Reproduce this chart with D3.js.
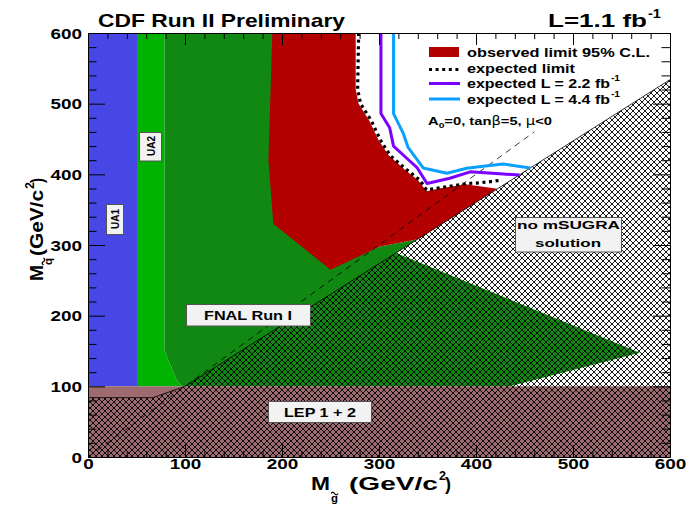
<!DOCTYPE html>
<html>
<head>
<meta charset="utf-8">
<script src="https://cdn.jsdelivr.net/npm/d3@7"></script>
<style>
  body { margin: 0; background: #fff; }
  svg { display: block; }
  text { font-family: "Liberation Sans", Arial, Helvetica, sans-serif; font-weight: bold; fill: #000; }
</style>
</head>
<body>
<svg id="chart" width="693" height="505"></svg>
<script>
// ---- axis ticks -----------------------------------------------------------
const xMajorTicks = [0, 100, 200, 300, 400, 500, 600];
const yMajorTicks = [0, 100, 200, 300, 400, 500, 600];
const minorStep = 20;

// ---- excluded regions (gluino mass, squark mass) in GeV/c^2 ---------------
const ua1Region = [[0, 100], [50.5, 100], [50.5, 600], [0, 600]];
const ua2Region = [[50.5, 100], [97, 100], [92, 107], [79, 150], [79, 600], [50.5, 600]];
const fnalRun1Region = [[79, 600], [196, 600], [196, 330], [250, 268], [301, 298], [340, 308.3],
  [317.5, 288.8], [404, 240.2], [569, 147.5], [435, 100], [97, 100], [92, 107], [79, 150]];
const observedRegion = [[190, 600], [276, 600], [276, 520], [279, 500], [290, 476], [300, 447],
  [310, 427], [327, 406], [340, 392], [349, 376], [362, 380], [389, 386], [422, 379.5],
  [340, 308.3], [301, 298], [250, 265], [191, 330], [186, 420]];
const lepRegion = [[0, 0], [600, 0], [600, 100], [0, 100]];
const noSolutionRegion = [[0, 0], [600, 0], [600, 534], [100, 100], [67, 84], [0, 84]];
const noSolutionEdge = [[0, 84], [67, 84], [100, 100], [600, 534]];

// ---- limit curves -----------------------------------------------------------
const expectedLimit = [[279, 600], [278, 520], [281, 500], [292, 476], [302, 447], [312, 426],
  [329, 406], [342, 392], [349, 378], [363, 381], [391, 387], [404, 388], [417, 390], [427, 392]];
const expected22 = [[302, 600], [302, 486], [311, 466], [315, 440], [330, 421], [339, 410],
  [349.5, 387], [373, 394.5], [394, 403.5], [417, 401.5], [445, 399]];
const expected44 = [[315, 600], [315, 486], [325, 458], [330, 438], [345.5, 409], [370, 401.5],
  [390.5, 408.5], [407.5, 411.5], [428, 414.5], [456, 409]];
const equalMassLine = [[0, 0], [460, 460]];

// ---- colours ----------------------------------------------------------------
const colUA1 = "#4747e6", colUA2 = "#00b300", colFNAL = "#118811", colObs = "#b30000",
      colLEP = "#9c6a6f", col22 = "#7a00ff", col44 = "#0aa0ff";

const svg = d3.select("#chart");
const x = d3.scaleLinear().domain([0, 600]).range([88, 670]);
const y = d3.scaleLinear().domain([0, 600]).range([457, 33]);

const defs = svg.append("defs");
defs.append("clipPath").attr("id", "plotClip")
  .append("rect").attr("x", x(0)).attr("y", y(600))
  .attr("width", x(600) - x(0)).attr("height", y(0) - y(600));
const hatch = defs.append("pattern").attr("id", "xhatch")
  .attr("patternUnits", "userSpaceOnUse").attr("width", 6).attr("height", 6);
hatch.append("path").attr("d", "M0,0L6,6M6,0L0,6M-1,1L1,-1M5,7L7,5M-1,5L1,7M5,-1L7,1")
  .attr("stroke", "#000").attr("stroke-width", 0.9).attr("fill", "none");

const area = d3.line().x(d => x(d[0])).y(d => y(d[1]));
const plot = svg.append("g").attr("clip-path", "url(#plotClip)");

function region(pts, fill) {
  plot.append("path").attr("d", area(pts) + "Z").attr("fill", fill);
}
region(ua1Region, colUA1);
region(ua2Region, colUA2);
region(fnalRun1Region, colFNAL);
region(observedRegion, colObs);
region(lepRegion, colLEP);
region(noSolutionRegion, "url(#xhatch)");
plot.append("path").attr("d", area(noSolutionEdge)).attr("fill", "none")
  .attr("stroke", "#000").attr("stroke-width", 0.8);

plot.append("path").attr("d", area(equalMassLine)).attr("fill", "none")
  .attr("stroke", "#000").attr("stroke-width", 0.8).attr("stroke-dasharray", "6,5");

function curve(pts, color, width, dash) {
  const p = plot.append("path").attr("d", area(pts)).attr("fill", "none")
    .attr("stroke", color).attr("stroke-width", width).attr("stroke-linejoin", "round");
  if (dash) p.attr("stroke-dasharray", dash);
}
curve(expected44, col44, 3);
curve(expected22, col22, 3);
curve(expectedLimit, "#000", 3.2, "3,3.6");

// ---- axes ---------------------------------------------------------------------
const xMinor = d3.range(0, 601, minorStep).filter(v => v % 100 !== 0);
const yMinor = d3.range(0, 601, minorStep).filter(v => v % 100 !== 0);

function styleAxis(g) {
  g.select(".domain").attr("stroke", "#000").attr("stroke-width", 1);
  g.selectAll(".tick line").attr("stroke", "#000").attr("stroke-width", 1);
}
function sizeLabels(g) {
  g.selectAll("text").attr("font-size", 14).attr("font-family", null)
    .attr("lengthAdjust", "spacingAndGlyphs")
    .attr("textLength", d => String(d).length * 10.5);
}

const gBottom = svg.append("g").attr("transform", `translate(0,${y(0)})`)
  .call(d3.axisBottom(x).tickValues(xMajorTicks).tickSizeInner(-12).tickSizeOuter(0).tickPadding(2));
styleAxis(gBottom); sizeLabels(gBottom);
svg.append("g").attr("transform", `translate(0,${y(0)})`)
  .call(d3.axisBottom(x).tickValues(xMinor).tickSize(-6).tickFormat(""))
  .call(g => { g.select(".domain").remove(); styleAxis(g); });

const gTop = svg.append("g").attr("transform", `translate(0,${y(600)})`)
  .call(d3.axisTop(x).tickValues(xMajorTicks).tickSizeInner(-12).tickSizeOuter(0).tickFormat(""));
styleAxis(gTop);
svg.append("g").attr("transform", `translate(0,${y(600)})`)
  .call(d3.axisTop(x).tickValues(xMinor).tickSize(-6).tickFormat(""))
  .call(g => { g.select(".domain").remove(); styleAxis(g); });

const gLeft = svg.append("g").attr("transform", `translate(${x(0)},0)`)
  .call(d3.axisLeft(y).tickValues(yMajorTicks).tickSizeInner(-17).tickSizeOuter(0).tickPadding(6));
styleAxis(gLeft); sizeLabels(gLeft);
gLeft.selectAll("text").attr("dy", "0.36em");
svg.append("g").attr("transform", `translate(${x(0)},0)`)
  .call(d3.axisLeft(y).tickValues(yMinor).tickSize(-8.5).tickFormat(""))
  .call(g => { g.select(".domain").remove(); styleAxis(g); });

const gRight = svg.append("g").attr("transform", `translate(${x(600)},0)`)
  .call(d3.axisRight(y).tickValues(yMajorTicks).tickSizeInner(-17).tickSizeOuter(0).tickFormat(""));
styleAxis(gRight);
svg.append("g").attr("transform", `translate(${x(600)},0)`)
  .call(d3.axisRight(y).tickValues(yMinor).tickSize(-8.5).tickFormat(""))
  .call(g => { g.select(".domain").remove(); styleAxis(g); });

// ---- text helpers -------------------------------------------------------------
function label(parent, str, px, py, size, len, anchor) {
  const t = parent.append("text").attr("x", px).attr("y", py).attr("font-size", size).text(str);
  if (len) t.attr("textLength", len).attr("lengthAdjust", "spacingAndGlyphs");
  if (anchor) t.attr("text-anchor", anchor);
  return t;
}
function tilde(parent, px, py, w) {
  parent.append("path")
    .attr("d", `M${px},${py} q${w / 4},-2.6 ${w / 2},0 t${w / 2},0`)
    .attr("fill", "none").attr("stroke", "#000").attr("stroke-width", 1.3);
}
function box(parent, bx, by, bw, bh) {
  parent.append("rect").attr("x", bx).attr("y", by).attr("width", bw).attr("height", bh)
    .attr("fill", "#f2f2f2").attr("stroke", "#555").attr("stroke-width", 1);
}

// titles
label(svg, "CDF Run II Preliminary", 98, 27, 19, 247);
label(svg, "L=1.1 fb", 548, 27, 19, 99);
label(svg, "-1", 648, 18, 12, 13);

// x-axis title: M with g-tilde subscript (GeV/c^2)
label(svg, "M", 311, 490, 19, 19);
label(svg, "g", 331, 501.5, 11, 7);
tilde(svg, 331, 493.5, 7);
label(svg, "(GeV/c", 349, 490, 19, 89);
label(svg, "2", 439, 480, 12, 7);
label(svg, ")", 445, 490, 19, 6);

// y-axis title, rotated: M with q-tilde subscript (GeV/c^2)
const yt = svg.append("g").attr("transform", "translate(43,281) rotate(-90)");
label(yt, "M", 0, 0, 19, 16);
label(yt, "q", 16, 8.5, 11, 7);
tilde(yt, 16, 0.5, 7);
label(yt, "(GeV/c", 25, 0, 19, 66);
label(yt, "2", 92, -9, 12, 7);
label(yt, ")", 98, 0, 19, 5);

// region labels
const lbl = svg.append("g");
box(lbl, 106.5, 204.5, 17, 30);
label(lbl.append("g").attr("transform", "translate(119,229) rotate(-90)"), "UA1", 0, 0, 11, 20);
box(lbl, 139.5, 132.5, 22, 28.5);
label(lbl.append("g").attr("transform", "translate(155,156) rotate(-90)"), "UA2", 0, 0, 11, 20);
box(lbl, 186.5, 304.5, 124, 21.5);
label(lbl, "FNAL Run I", 204, 320, 12, 88);
box(lbl, 515.5, 217.5, 106, 34.5);
label(lbl, "no mSUGRA", 517, 229, 11.5, 103);
label(lbl, "solution", 535, 247, 11.5, 66);
box(lbl, 268.5, 401.5, 103, 21);
label(lbl, "LEP 1 + 2", 284, 416.5, 12, 72);

// ---- legend ---------------------------------------------------------------------
const lg = svg.append("g");
lg.append("rect").attr("x", 429).attr("y", 47).attr("width", 30).attr("height", 10).attr("fill", colObs);
lg.append("line").attr("x1", 429).attr("x2", 460).attr("y1", 69.5).attr("y2", 69.5)
  .attr("stroke", "#000").attr("stroke-width", 3).attr("stroke-dasharray", "3,3.6");
lg.append("line").attr("x1", 429).attr("x2", 460).attr("y1", 83.5).attr("y2", 83.5)
  .attr("stroke", col22).attr("stroke-width", 3);
lg.append("line").attr("x1", 429).attr("x2", 460).attr("y1", 99).attr("y2", 99)
  .attr("stroke", col44).attr("stroke-width", 3);
label(lg, "observed limit 95% C.L.", 467, 57, 12, 183);
label(lg, "expected limit", 467, 72.5, 12, 108);
label(lg, "expected L = 2.2 fb", 467, 88, 12, 143);
label(lg, "-1", 611, 81, 8.5, 9);
label(lg, "expected L = 4.4 fb", 467, 103.5, 12, 143);
label(lg, "-1", 611, 96.5, 8.5, 9);

// parameter note: A0=0, tan(beta)=5, mu<0
const note = lg.append("text").attr("x", 428).attr("y", 125).attr("font-size", 11.5)
  .attr("textLength", 124).attr("lengthAdjust", "spacingAndGlyphs");
note.append("tspan").text("A");
note.append("tspan").attr("font-size", 8).attr("dy", 3).text("0");
note.append("tspan").attr("dy", -3).text("=0, tan");
note.append("tspan").attr("font-family", "'DejaVu Sans', sans-serif").attr("font-weight", "normal").text("β");
note.append("tspan").text("=5, ");
note.append("tspan").attr("font-family", "'DejaVu Sans', sans-serif").attr("font-weight", "normal").text("μ");
note.append("tspan").text("<0");
</script>
</body>
</html>
